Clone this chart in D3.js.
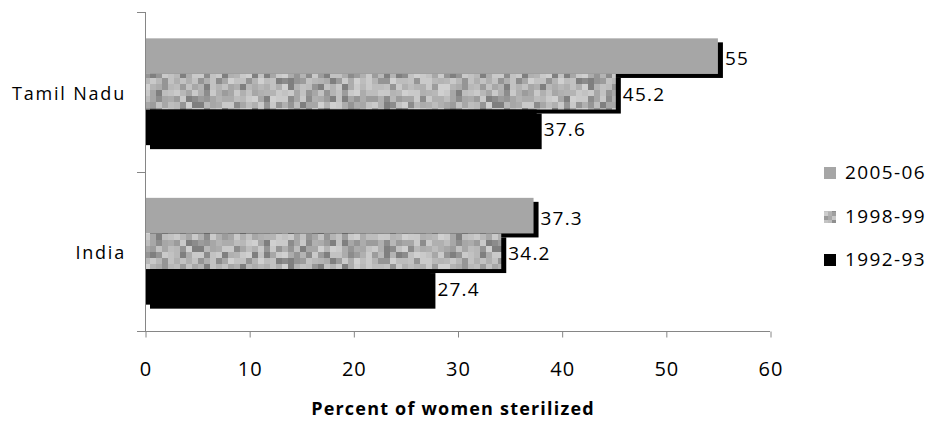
<!DOCTYPE html>
<html>
<head>
<meta charset="utf-8">
<script src="https://cdn.jsdelivr.net/npm/d3@7"></script>
<style>
  html, body { margin: 0; padding: 0; background: #fff; }
  svg { display: block; }
  text { font-family: "Open Sans", sans-serif; fill: #000; }
</style>
</head>
<body>
<svg id="chart" width="930" height="423"></svg>
<script>
// Percent of women sterilized, by survey round
const regions = ["Tamil Nadu", "India"];
const rounds = ["2005-06", "1998-99", "1992-93"];
const values2005 = [55, 37.3];
const values1998 = [45.2, 34.2];
const values1992 = [37.6, 27.4];
const xTicks = [0, 10, 20, 30, 40, 50, 60];
const axisTitle = "Percent of women sterilized";

const seriesValues = [values2005, values1998, values1992];

const svg = d3.select("#chart");
const defs = svg.append("defs");

// speckled grey texture used for the 1998-99 bars
const cell = 6, cols = 50, rows = 6;
const pat = defs.append("pattern")
  .attr("id", "speckle")
  .attr("patternUnits", "userSpaceOnUse")
  .attr("width", cell * cols)
  .attr("height", cell * rows);
const greys = ["#c9c9c9", "#b4b4b4", "#9c9c9c", "#d0d0d0", "#8c8c8c", "#bdbdbd", "#a7a7a7", "#c2c2c2", "#959595", "#b0b0b0", "#cacaca", "#7f7f7f", "#acacac", "#b8b8b8"];
function hash(i, j) {
  let h = (i * 374761393 + j * 668265263 + 1442695041) >>> 0;
  h = Math.imul(h ^ (h >>> 13), 1274126177) >>> 0;
  h = Math.imul(h ^ (h >>> 15), 2246822519) >>> 0;
  return (h ^ (h >>> 16)) >>> 0;
}
for (let j = 0; j < rows; j++) {
  for (let i = 0; i < cols; i++) {
    pat.append("rect")
      .attr("x", i * cell).attr("y", j * cell)
      .attr("width", cell).attr("height", cell)
      .attr("fill", greys[hash(i, j) % greys.length]);
  }
}
// finer version for the legend swatch
const patL = defs.append("pattern")
  .attr("id", "speckleLegend")
  .attr("patternUnits", "userSpaceOnUse")
  .attr("width", 12).attr("height", 12);
const legendGreys = ["#a9a9a9", "#c8c8c8", "#9a9a9a", "#bcbcbc", "#8f8f8f", "#c4c4c4", "#b2b2b2", "#a0a0a0", "#cdcdcd"];
for (let j = 0; j < 3; j++) {
  for (let i = 0; i < 3; i++) {
    patL.append("rect")
      .attr("x", i * 4).attr("y", j * 4)
      .attr("width", 4).attr("height", 4)
      .attr("fill", legendGreys[j * 3 + i]);
  }
}

const fills = ["#a6a6a6", "url(#speckle)", "#000000"];
const legendFills = ["#a6a6a6", "url(#speckleLegend)", "#000000"];

const x = d3.scaleLinear().domain([0, 60]).range([145, 770]);
const y = d3.scaleBand().domain(regions).range([12, 331]).padding(0);
const ySub = d3.scaleBand().domain(rounds).range([0, y.bandwidth()])
  .paddingInner(0).paddingOuter(0.74);

const axisColor = "#868686";

// bars with offset drop shadow, drawn series by series
const shadowDx = 5, shadowDy = 4;
rounds.forEach((r, si) => {
  const g = svg.append("g");
  regions.forEach((reg, ri) => {
    const v = seriesValues[si][ri];
    const by = y(reg) + ySub(r);
    const bh = ySub.bandwidth();
    g.append("rect")
      .attr("x", x(0) + shadowDx).attr("y", by + shadowDy)
      .attr("width", x(v) - x(0)).attr("height", bh)
      .attr("fill", "#000");
    g.append("rect")
      .attr("x", x(0)).attr("y", by)
      .attr("width", x(v) - x(0)).attr("height", bh)
      .attr("fill", fills[si]);
  });
});

// value labels
rounds.forEach((r, si) => {
  regions.forEach((reg, ri) => {
    const v = seriesValues[si][ri];
    svg.append("text")
      .attr("x", x(v) + shadowDx + 2)
      .attr("y", y(reg) + ySub(r) + ySub.bandwidth() / 2 + 4)
      .attr("dominant-baseline", "middle")
      .attr("font-size", 19)
      .attr("letter-spacing", 1.2)
      .text(String(v));
  });
});

// left axis line with ticks at category boundaries
const left = svg.append("g").attr("stroke", axisColor).attr("stroke-width", 1);
left.append("line")
  .attr("x1", x(0) + 0.5).attr("x2", x(0) + 0.5)
  .attr("y1", 12).attr("y2", 331);
const bounds = [12].concat(regions.map(r => y(r) + y.bandwidth()));
bounds.forEach(b => {
  left.append("line")
    .attr("x1", x(0) - 8).attr("x2", x(0) + 0.5)
    .attr("y1", Math.round(b) + 0.5).attr("y2", Math.round(b) + 0.5);
});

// bottom value axis
const xAxis = d3.axisBottom(x).tickValues(xTicks).tickSize(6).tickSizeOuter(0).tickPadding(24);
const gx = svg.append("g").attr("transform", "translate(0.5," + 331.5 + ")").call(xAxis);
gx.select(".domain").attr("stroke", axisColor).attr("d", "M" + (x(0) - 0.5) + ",0H" + (x(60) - 0.5));
gx.selectAll(".tick line").attr("stroke", axisColor);
gx.selectAll(".tick text")
  .attr("font-family", "Open Sans, sans-serif")
  .attr("font-size", 20)
  .attr("letter-spacing", 1)
  .attr("fill", "#000");

// category labels
regions.forEach(reg => {
  svg.append("text")
    .attr("x", 126)
    .attr("y", y(reg) + y.bandwidth() / 2 + 3)
    .attr("text-anchor", "end")
    .attr("dominant-baseline", "middle")
    .attr("font-size", 18)
    .attr("letter-spacing", 1.8)
    .text(reg);
});

// axis title
svg.append("text")
  .attr("x", 453).attr("y", 415)
  .attr("text-anchor", "middle")
  .attr("font-size", 18)
  .attr("font-weight", "bold")
  .attr("letter-spacing", 1.2)
  .text(axisTitle);

// legend
const legendY = [173, 217, 260];
rounds.forEach((r, i) => {
  svg.append("rect")
    .attr("x", 824).attr("y", legendY[i] - 6)
    .attr("width", 12).attr("height", 12)
    .attr("fill", legendFills[i]);
  svg.append("text")
    .attr("x", 845).attr("y", legendY[i] + 1)
    .attr("dominant-baseline", "middle")
    .attr("font-size", 19)
    .attr("letter-spacing", 1.4)
    .text(r);
});
</script>
</body>
</html>
